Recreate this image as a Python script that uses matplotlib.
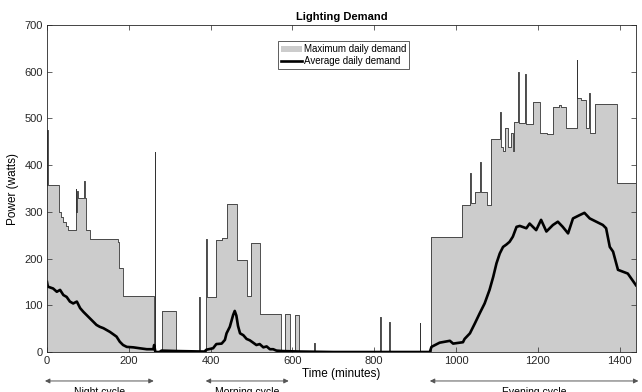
import numpy as np
import matplotlib
matplotlib.use('Agg')
import matplotlib.pyplot as plt

plt.rcParams['font.family'] = ['Liberation Sans', 'DejaVu Sans']

# maximum daily demand (step breakpoints, minutes / watts)
max_t = [0, 1, 3, 29, 34, 40, 47, 52, 70, 72, 74, 76, 91, 93, 96, 105, 173, 177, 187,
         261, 264, 265, 266, 280, 315, 371, 373, 389, 391, 414, 429, 439, 465, 490,
         500, 520, 572, 581, 595, 607, 617, 654, 656, 815, 817, 837, 839, 911, 913,
         938, 1015, 1035, 1037, 1046, 1059, 1061, 1076, 1086, 1107, 1109, 1115, 1121,
         1128, 1134, 1140, 1143, 1151, 1153, 1168, 1170, 1188, 1206, 1222, 1238, 1252,
         1256, 1270, 1284, 1295, 1297, 1306, 1318, 1326, 1328, 1335, 1341, 1394, 1440]
max_v = [357, 475, 357, 300, 290, 279, 270, 262, 350, 300, 345, 330, 367, 330, 262, 243, 235, 180, 120,
         0, 428, 0, 0, 88, 0, 118, 0, 242, 118, 240, 245, 316, 197, 120,
         234, 81, 0, 81, 0, 80, 0, 20, 0, 76, 0, 65, 0, 62, 0,
         246, 315, 384, 318, 343, 407, 343, 314, 457, 514, 440, 430, 479,
         440, 470, 430, 493, 600, 490, 596, 488, 536, 470, 466, 525, 529,
         525, 479, 480, 625, 543, 540, 479, 554, 468, 470, 532, 362, 357]

# average daily demand
avg_t = [0, 2, 15, 24, 32, 40, 48, 56, 64, 73, 81, 89, 97, 105, 113, 121, 129, 138, 146,
         154, 162, 170, 178, 186, 195, 211, 227, 244, 260, 262, 265, 275, 280, 320, 385,
         390, 406, 414, 427, 435, 439, 447, 455, 459, 463, 467, 472, 480, 488, 496, 504,
         512, 520, 529, 537, 545, 553, 561, 577, 620, 700, 936, 940, 960, 985, 993, 1017,
         1021, 1034, 1046, 1058, 1070, 1082, 1091, 1099, 1107, 1115, 1123, 1131, 1139, 1148,
         1156, 1172, 1180, 1196, 1208, 1221, 1237, 1249, 1261, 1274, 1286, 1302, 1314, 1327,
         1343, 1359, 1367, 1376, 1384, 1396, 1408, 1420, 1428, 1440]
avg_v = [150, 140, 136, 129, 133, 122, 118, 108, 104, 108, 94, 86, 79, 72, 65, 58, 54, 51, 47,
         43, 38, 33, 22, 15, 11, 10, 8, 6, 6, 15, 0, 0, 3, 2, 1,
         5, 8, 17, 18, 26, 40, 54, 79, 88, 78, 56, 40, 36, 28, 25, 20,
         15, 17, 10, 12, 6, 6, 3, 2, 1, 0, 0, 11, 20, 24, 18, 21,
         28, 40, 61, 83, 104, 133, 161, 190, 211, 225, 230, 236, 247, 268,
         270, 265, 275, 261, 283, 258, 272, 279, 268, 254, 286, 293, 298, 286,
         279, 272, 265, 225, 215, 176, 172, 168, 158, 143]

cycles = [('Night cycle', -5, 261), ('Morning cycle', 388, 591), ('Evening cycle', 936, 1446)]

fig = plt.figure(figsize=(6.42, 3.92), dpi=100)
ax = fig.add_axes([0.0732, 0.102, 0.9174, 0.834])

ax.fill_between(max_t, max_v, step='post', color='#cccccc', linewidth=0,
                label='Maximum daily demand')
ax.step(max_t, max_v, where='post', color='#333333', lw=0.6)
ax.plot(avg_t, avg_v, color='black', lw=1.9, label='Average daily demand')

ax.set_xlim(0, 1440)
ax.set_ylim(0, 700)
ax.set_xticks(np.arange(0, 1401, 200))
ax.set_yticks(np.arange(0, 701, 100))
ax.tick_params(direction='in', length=3.5, width=0.5, labelsize=8, colors='#262626',
               top=True, right=True, pad=3)
for s in ax.spines.values():
    s.set_linewidth(0.6)
    s.set_color('#262626')

ax.set_title('Lighting Demand', fontsize=8, fontweight='bold', pad=4)
ax.set_xlabel('Time (minutes)', fontsize=8.5, labelpad=1)
ax.set_ylabel('Power (watts)', fontsize=8.5, labelpad=4)

leg = ax.legend(loc='upper left', bbox_to_anchor=(0.392, 0.95), fontsize=7,
                fancybox=False, framealpha=1, edgecolor='#444444', borderpad=0.3,
                handlelength=2.2, handletextpad=0.2, labelspacing=0.2, borderaxespad=0)
leg.get_frame().set_linewidth(0.6)

# cycle arrows below the axis (labels run off the bottom edge as in the original)
for name, t0, t1 in cycles:
    ax.annotate('', xy=(t0, -62), xytext=(t1, -62), xycoords='data',
                arrowprops=dict(arrowstyle='<|-|>', color='#555555', lw=0.7,
                                mutation_scale=7, shrinkA=0, shrinkB=0),
                annotation_clip=False)
    ax.text((t0 + t1) / 2, -86, name, ha='center', va='center', fontsize=7.5,
            clip_on=False)

fig.savefig('out.png', dpi=100)
